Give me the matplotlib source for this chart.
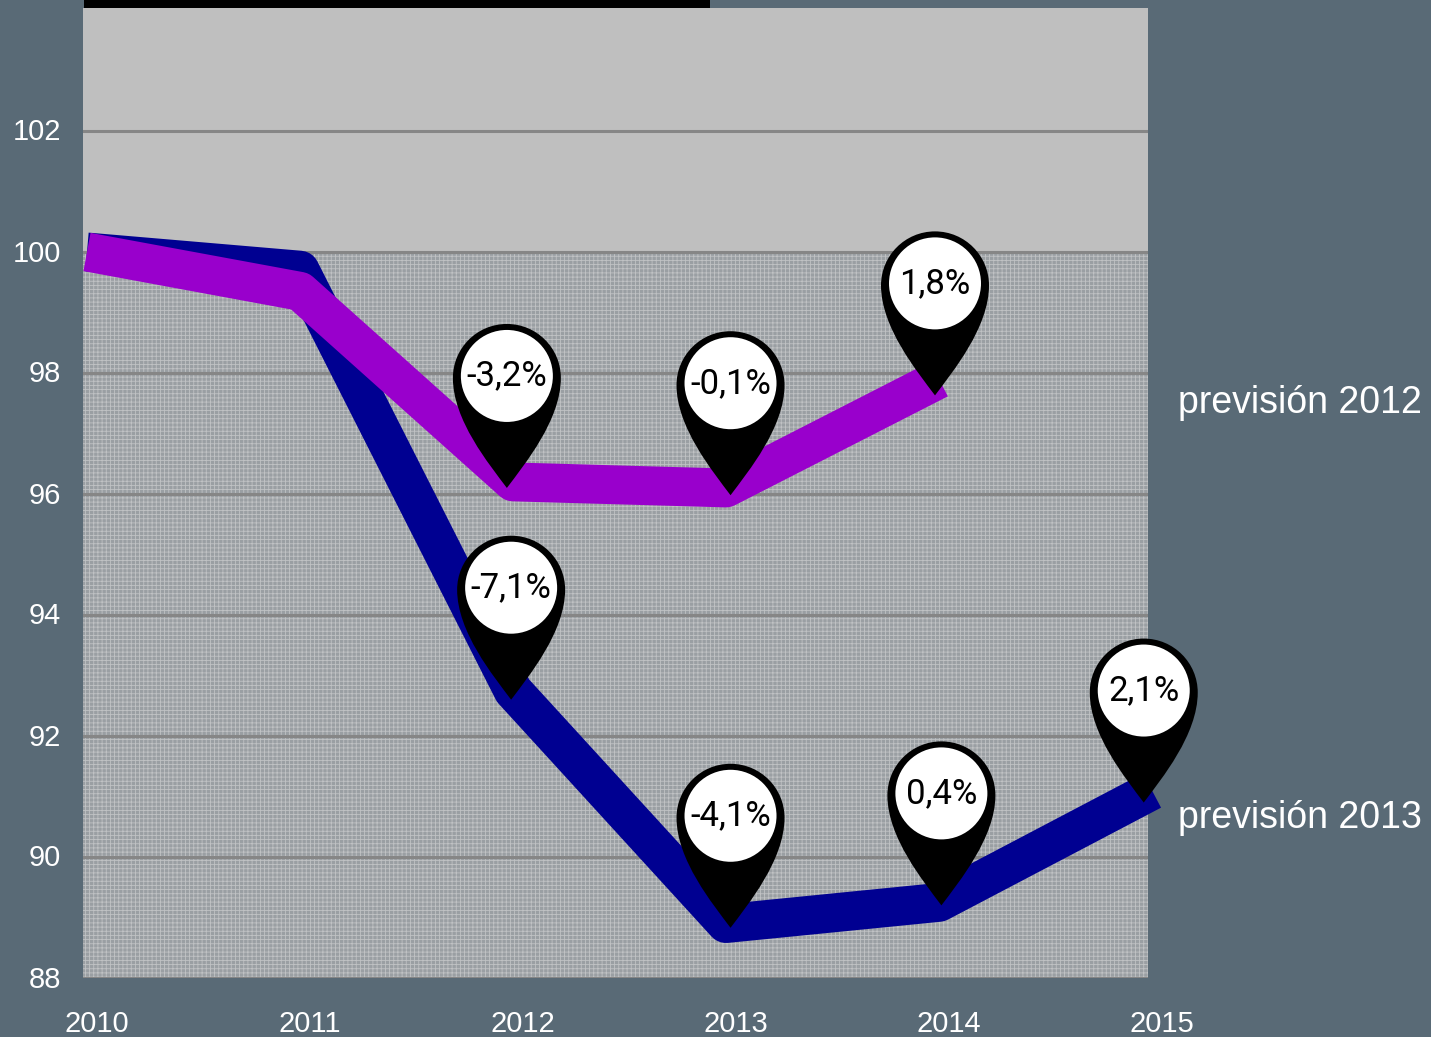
import matplotlib
matplotlib.use("Agg")
import matplotlib.pyplot as plt
from matplotlib.path import Path
from matplotlib.patches import PathPatch, Circle, Rectangle
from matplotlib.transforms import Affine2D, ScaledTranslation

years = [2010, 2011, 2012, 2013, 2014, 2015]
yticks = [88, 90, 92, 94, 96, 98, 100, 102]
prev_2013 = [100.0, 99.7, 92.75, 88.9, 89.25, 91.1]
prev_2012 = [100.0, 99.35, 96.2, 96.1, 97.9]

pin_x = [2011.99, 2013.04, 2014.0, 2012.01, 2013.04, 2014.03, 2014.98]
pin_y = [96.1, 95.98, 97.63, 92.6, 88.83, 89.2, 90.9]
pin_text = ["-3,2%", "-0,1%", "1,8%", "-7,1%", "-4,1%", "0,4%", "2,1%"]

BG = "#596a76"
W, H = 1431, 1037

fig = plt.figure(figsize=(W / 100, H / 100), dpi=100, facecolor=BG)
plt.rcParams["hatch.linewidth"] = 0.6
ax = fig.add_axes([83 / W, 1 - 978 / H, (1148 - 83) / W, (978 - 8) / H])
ax.set_xlim(2010, 2015)
ax.set_ylim(88, 100 + 244 / 60.5)
ax.set_facecolor("#bfbfbf")
for s in ax.spines.values():
    s.set_visible(False)

# woven texture below 100
ax.axhspan(88, 100, facecolor="#9a9fa3", edgecolor="#c0c2c4", hatch="+" * 4, lw=0, zorder=1)
for v in yticks:
    ax.axhline(v, color="#868686", lw=2.2, zorder=2)

# the series sit a few pixels right of the axis start
shift = ax.transData + ScaledTranslation(4 / 100, 0, fig.dpi_scale_trans)
ax.plot(years, prev_2013, color="#000091", lw=28, solid_joinstyle="round",
        solid_capstyle="butt", clip_on=False, zorder=3, transform=shift)
ax.plot(years[:5], prev_2012, color="#9900cc", lw=28, solid_joinstyle="round",
        solid_capstyle="butt", clip_on=False, zorder=4, transform=shift)

ax.set_xticks(years)
ax.set_yticks(yticks)
ax.tick_params(length=0, colors="white", labelsize=21)
ax.tick_params(axis="x", pad=23)
ax.tick_params(axis="y", pad=16)
for lab in ax.get_xticklabels() + ax.get_yticklabels():
    lab.set_fontfamily(["Liberation Sans", "DejaVu Sans"])
for lab in ax.get_xticklabels():
    lab.set_transform(lab.get_transform() + ScaledTranslation(14 / 100, 0, fig.dpi_scale_trans))
for lab in ax.get_yticklabels():
    lab.set_transform(lab.get_transform() + ScaledTranslation(0, 1.5 / 100, fig.dpi_scale_trans))

ax.text(2015.14, 97.5, "previsión 2012", color="white", fontsize=27, va="center",
        family=["Liberation Sans", "DejaVu Sans"], clip_on=False)
ax.text(2015.14, 90.64, "previsión 2013", color="white", fontsize=27, va="center",
        family=["Liberation Sans", "DejaVu Sans"], clip_on=False)

# map pins, shape in pixels relative to the tip
R = 54
k = 0.5523 * R
cy = 110
verts = [(0, 0), (-18, 24), (-R, 68), (-R, cy), (-R, cy + k), (-k, cy + R), (0, cy + R),
         (k, cy + R), (R, cy + k), (R, cy), (R, 68), (18, 24), (0, 0)]
codes = [Path.MOVETO] + [Path.CURVE4] * 12
pin_path = Path(verts, codes)

fig.canvas.draw()
for x, y, t in zip(pin_x, pin_y, pin_text):
    px, py = ax.transData.transform((x, y))
    tr = Affine2D().translate(px, py)
    fig.add_artist(PathPatch(pin_path, facecolor="black", edgecolor="none", transform=tr, zorder=5))
    fig.add_artist(Circle((0, 112), 46, facecolor="white", edgecolor="none", transform=tr, zorder=6))
    fig.text(px / W, (py + 112) / H, t, ha="center", va="center", color="black", fontsize=25,
             family=["Roboto", "DejaVu Sans"], zorder=7)

# black bar along the top edge
fig.add_artist(Rectangle((84 / W, 1 - 8 / H), 626 / W, 8 / H, transform=fig.transFigure,
                         facecolor="black", edgecolor="none", zorder=5))

fig.savefig("out.png", dpi=100, facecolor=BG)
